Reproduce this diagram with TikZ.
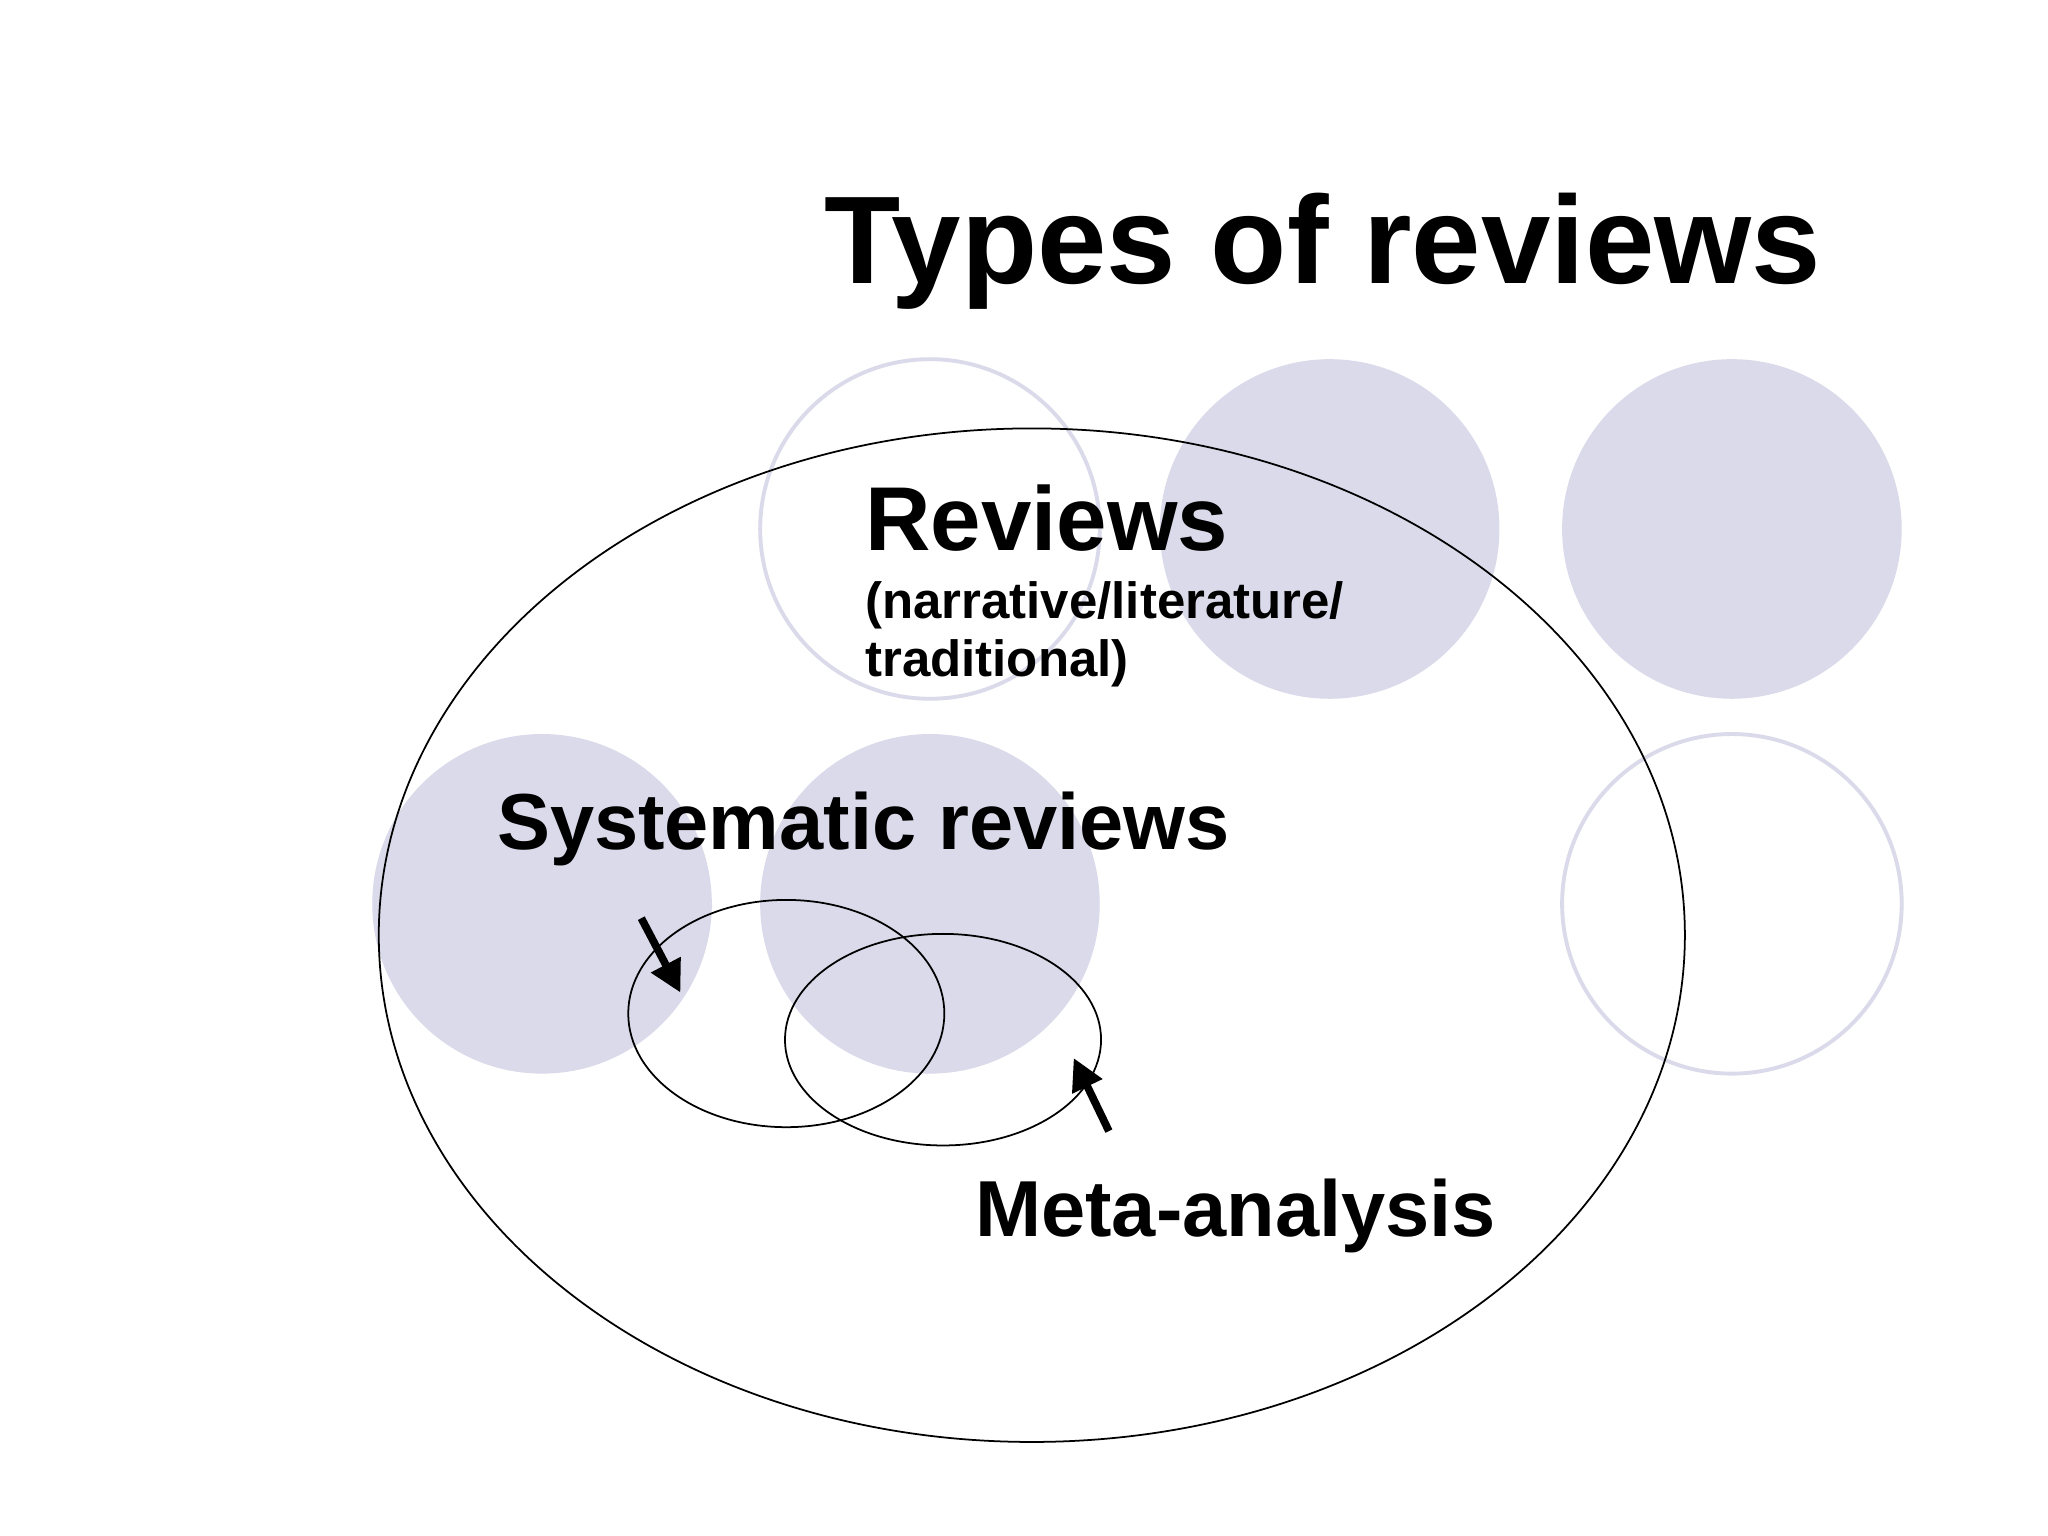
\documentclass[tikz,border=0pt]{standalone}
\usepackage{fontspec}
\setmainfont{Liberation Sans}
\usetikzlibrary{arrows.meta}
\definecolor{deco}{RGB}{218,218,235}
\begin{document}
\begin{tikzpicture}[x=0.013061cm,y=-0.013061cm,
  fdot/.style={fill=deco,draw=none},
  odot/.style={draw=deco,line width=1.1pt},
  ell/.style={draw=black,line width=0.5pt},
  arr/.style={-{Triangle[length=9pt,width=9pt]},line width=2.2pt},
  lbl/.style={font=\bfseries,anchor=west,inner sep=0pt,align=left}]
\useasboundingbox (0,0) rectangle (1568,1176);
\fill[white] (0,0) rectangle (1568,1176);
\fill[fdot] (1018,405) circle (130);
\fill[fdot] (1326,405) circle (130);
\fill[fdot] (415,692) circle (130);
\fill[fdot] (712,692) circle (130);
\draw[odot] (712,405) circle (130);
\draw[odot] (1326,692) circle (130);
\node[font=\fontsize{35.5}{42}\selectfont\bfseries,inner sep=0pt] (title) at (1013,192) {Types of reviews};
\draw[ell] (790,716) ellipse [x radius=500,y radius=388];
\draw[ell] (602,776) ellipse [x radius=121,y radius=87];
\draw[ell] (722,796) ellipse [x radius=121,y radius=81];
\node[lbl,font=\fontsize{25.8}{31}\selectfont\bfseries] (rev) at (662,397) {Reviews};
\node[lbl,font=\fontsize{14.5}{16.5}\selectfont\bfseries,anchor=north west] (sub) at (662,445) {(narrative/literature/\\traditional)};
\node[lbl,font=\fontsize{22.6}{27}\selectfont\bfseries] (sys) at (380,635) {Systematic reviews};
\node[lbl,font=\fontsize{22.6}{27}\selectfont\bfseries] (meta) at (746,931) {Meta-analysis};
\coordinate (a1s) at (491,703); \coordinate (a1e) at (521,760);
\coordinate (a2s) at (849,866); \coordinate (a2e) at (822,810);
\draw[arr] (a1s) -- (a1e);
\draw[arr] (a2s) -- (a2e);
\end{tikzpicture}
\end{document}
